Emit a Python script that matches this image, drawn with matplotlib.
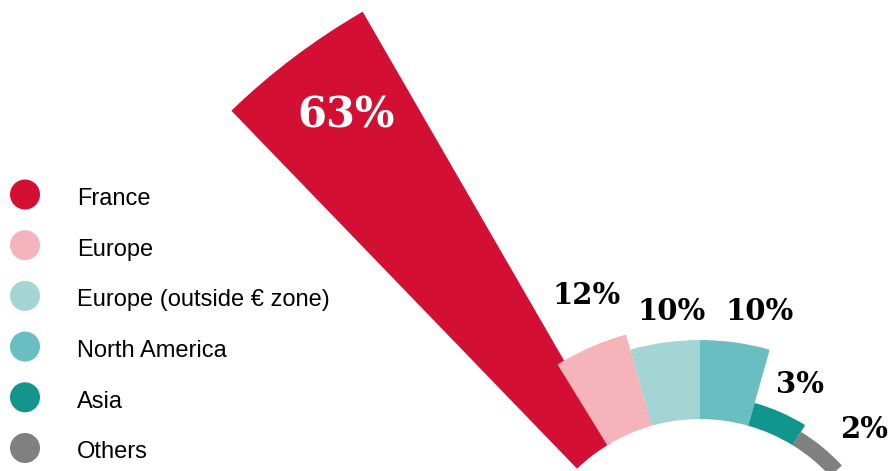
import matplotlib.pyplot as plt
import numpy as np

########## revenue split by region ##########
regions = ['France', 'Europe', 'Europe (outside € zone)', 'North America', 'Asia', 'Others']
shares = [63, 12, 10, 10, 3, 2]
colors = ['#D30F34', '#F5B3BA', '#A3D5D4', '#69BEC1', '#12958D', '#808080']

########## geometry (pixels / degrees) ##########
W, H = 892, 471
cx, cy = 700, 596          # fan centre, below the canvas
px_per_pct = 7.9           # radial scale
hole = 22.4                # inner radius in % units
rmax = 90
# left (counter-clockwise) edge and angular width of each slice
slice_start = [134.0, 121.6, 105.8, 90.0, 74.2, 58.4]
slice_width = [14.0, 15.8, 15.8, 15.8, 15.8, 15.8]

fig = plt.figure(figsize=(W / 100, H / 100), dpi=100)

R = rmax * px_per_pct
ax = fig.add_axes([(cx - R) / W, (H - cy - R) / H, 2 * R / W, 2 * R / H],
                  projection='polar')
ax.set_ylim(0, rmax)
ax.set_axis_off()

start = np.deg2rad(slice_start)
width = np.deg2rad(slice_width)
ax.bar(start - width, shares, width=width, bottom=hole,
       color=colors, linewidth=0, align='edge')

########## overlay in pixel coords for labels and legend ##########
ov = fig.add_axes([0, 0, 1, 1])
ov.set_xlim(0, W)
ov.set_ylim(H, 0)
ov.set_axis_off()

label_xy = [(346, 128), (587, 304), (672, 320), (760, 320), (800, 393), (864, 438)]
label_size = [30, 21, 21, 21, 21, 21]
for i, v in enumerate(shares):
    ov.text(label_xy[i][0], label_xy[i][1], f'{v}%', ha='center', va='baseline',
            fontsize=label_size[i], fontweight='bold', family='DejaVu Serif',
            color='white' if i == 0 else 'black')

leg_y = 194.5 + 50.7 * np.arange(len(regions))
ov.scatter(np.full(len(regions), 25), leg_y, s=(30 * 0.72) ** 2, c=colors, linewidths=0)
for y, name in zip(leg_y, regions):
    ov.text(77, y + 10.5, name, ha='left', va='baseline', fontsize=17,
            family='Liberation Sans', color='black')

fig.savefig('out.png', dpi=100)
